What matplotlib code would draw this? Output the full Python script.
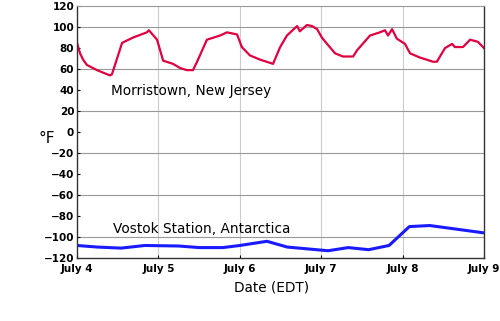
import matplotlib
matplotlib.use("Agg")
import matplotlib.pyplot as plt

# hours since July 4 00:00 EDT
morris_hours = [0, 0.9, 1.8, 2.9, 5.9, 9.7, 10.3, 13.3, 16.5, 20.6, 21.2, 23.6,
                25.4, 28.3, 30.4, 32.4, 34.2, 35.4, 38.3, 42.2, 44.2, 47.2, 48.6,
                51, 54, 57.8, 59.9, 61.9, 64.9, 65.7, 67.8, 69.3, 70.8, 72.2, 74,
                76.1, 78.4, 81.4, 82.6, 86.4, 89.3, 90.8, 91.7, 92.9, 94.3, 96.7,
                98.2, 101.1, 105, 106.1, 108.5, 110.6, 111.4, 113.8, 115.9, 118.2, 120]
morris_temp = [85, 75, 69, 64, 59, 54, 55, 85, 90, 95, 97, 88,
               68, 65, 61, 59, 59, 67, 88, 92, 95, 93, 81,
               73, 69, 65, 81, 92, 101, 96, 102, 101, 98, 90, 83,
               75, 72, 72, 78, 92, 95, 97, 92, 98, 89, 84,
               75, 71, 67, 67, 80, 84, 81, 81, 88, 86, 80]

vostok_hours = [0, 6, 13, 20, 30, 36, 43, 48, 56, 62, 74, 80, 86, 92, 98, 104, 120]
vostok_temp = [-108, -109.5, -110.5, -108, -108.5, -110, -110, -108, -104, -109.5,
               -113, -110, -112, -108, -90, -89, -96]

day_labels = ["July 4", "July 5", "July 6", "July 7", "July 8", "July 9"]
y_ticks = list(range(-120, 121, 20))

fig = plt.figure(figsize=(5, 3.21), dpi=100)
ax = fig.add_axes([0.154, 0.196, 0.814, 0.785])

for d in range(1, 5):
    ax.axvline(d * 24, color="#cccccc", lw=0.8, zorder=0)
for v in (100, 60, 20, -20, -60, -100):
    ax.axhline(v, color="#999999", lw=0.8, zorder=0)

ax.plot(morris_hours, morris_temp, color="#e0003f", lw=1.6)
ax.plot(vostok_hours, vostok_temp, color="#1a1aff", lw=2.2)

ax.set_xlim(0, 120)
ax.set_ylim(-120, 120)
ax.set_xticks([i * 24 for i in range(len(day_labels))])
ax.set_xticklabels(day_labels)
ax.set_yticks(y_ticks)
ax.set_yticklabels([str(v).replace("-", "\u2212") for v in y_ticks])
ax.tick_params(axis="both", length=2, width=0.8, labelsize=7.5, direction="in")
ax.tick_params(axis="y", pad=2)
ax.tick_params(axis="x", pad=4)
for lbl in ax.get_xticklabels() + ax.get_yticklabels():
    lbl.set_fontweight("bold")

for side in ("left", "right", "bottom"):
    ax.spines[side].set_color("#333333")
    ax.spines[side].set_linewidth(1.0)
ax.spines["top"].set_color("#999999")
ax.spines["top"].set_linewidth(0.8)

ax.text(10.1, 39, "Morristown, New Jersey", fontsize=9.8, va="center", ha="left")
ax.text(10.6, -92, "Vostok Station, Antarctica", fontsize=9.8, va="center", ha="left")

fig.text(0.076, 0.57, "\u00b0F", fontsize=11, va="center", ha="left")
fig.text(0.543, 0.103, "Date (EDT)", fontsize=9.8, va="center", ha="center")

fig.savefig("out.png", dpi=100)
